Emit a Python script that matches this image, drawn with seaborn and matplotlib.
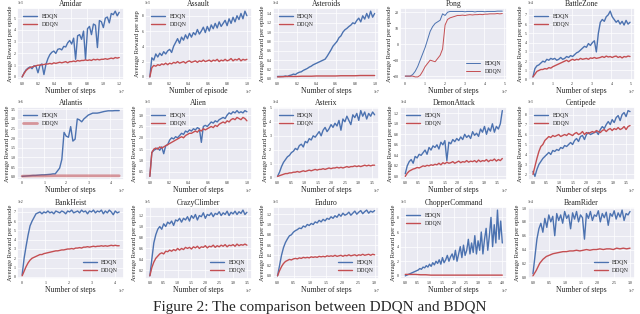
import numpy as np
import matplotlib
matplotlib.use('Agg')
import matplotlib.pyplot as plt
import seaborn as sns

# ---- data, x in units of 1e7 steps, y in units of y_scale ----
games = ['Amidar', 'Assault', 'Asteroids', 'Pong', 'BattleZone',
         'Atlantis', 'Alien', 'Asterix', 'DemonAttack', 'Centipede',
         'BankHeist', 'CrazyClimber', 'Enduro', 'ChopperCommand', 'BeamRider']
x_end = [1.2, 1.0, 1.0, 4.9, 4.95, 4.4, 1.0, 3.6, 3.7, 3.65, 4.2, 3.5, 3.0, 4.0, 3.0]
y_scale = [1e3, 1e4, 1e4, 1, 1e4, 1e6, 1e3, 1e4, 1e4, 1e3, 1e2, 1e5, 1e3, 1e4, 1e4]
y_labels = ['Average Reward per episode', 'Average Reward per step'] + ['Average Reward per episode'] * 13
x_labels = ['Number of steps', 'Number of episode'] + ['Number of steps'] * 13
legend_loc = ['upper left', 'upper left', 'upper left', 'lower right', 'upper left',
              'upper left', 'upper left', 'upper left', 'upper left', 'upper left',
              'lower right', 'lower right', 'lower right', 'upper left', 'lower right']

amidar_bdqn = [0.0, 0.35, 0.6, 0.75, 0.85, 0.7, 0.95, 0.9, 0.35, 1.0, 1.1, 0.2, 1.05, 1.55, 1.9, 2.1, 2.2,
               2.0, 2.35, 2.4, 2.3, 2.6, 2.55, 2.9, 3.1, 2.8, 3.3, 1.5, 3.5, 3.6, 3.2, 3.9, 1.5, 4.1, 4.3,
               3.6, 4.5, 4.4, 2.5, 4.8, 4.7, 4.2, 5.0, 5.1, 4.6, 5.4, 5.3, 5.6, 5.2, 5.5]
amidar_ddqn = [0.0, 0.3, 0.55, 0.7, 0.8, 0.85, 0.9, 0.95, 1.0, 1.0, 1.05, 1.05, 1.1, 1.1, 1.15, 1.1, 1.2,
               1.15, 1.2, 1.25, 1.2, 1.25, 1.3, 1.2, 1.3, 1.3, 1.35, 1.3, 1.4, 1.35, 1.4, 1.4, 1.45, 1.4,
               1.45, 1.4, 1.5, 1.45, 1.5, 1.45, 1.5, 1.5, 1.55, 1.5, 1.55, 1.6, 1.55, 1.65, 1.6, 1.65]

assault_bdqn = [0.0, 0.25, 0.22, 0.3, 0.26, 0.31, 0.28, 0.33, 0.3, 0.34, 0.36, 0.32, 0.4, 0.45, 0.5, 0.44,
                0.52, 0.48, 0.55, 0.5, 0.57, 0.52, 0.58, 0.55, 0.62, 0.56, 0.6, 0.65, 0.58, 0.66, 0.6, 0.68,
                0.63, 0.7, 0.64, 0.72, 0.66, 0.7, 0.74, 0.67, 0.76, 0.7, 0.78, 0.72, 0.8, 0.75, 0.83, 0.76,
                0.86, 0.8]
assault_ddqn = [0.0, 0.12, 0.15, 0.14, 0.16, 0.15, 0.17, 0.16, 0.18, 0.16, 0.18, 0.17, 0.19, 0.18, 0.2, 0.18,
                0.19, 0.2, 0.18, 0.2, 0.21, 0.19, 0.2, 0.21, 0.19, 0.21, 0.2, 0.22, 0.2, 0.21, 0.22, 0.2,
                0.22, 0.21, 0.23, 0.2, 0.22, 0.21, 0.23, 0.21, 0.22, 0.24, 0.21, 0.23, 0.22, 0.24, 0.21,
                0.23, 0.22, 0.23]

asteroids_bdqn = [0.05, 0.05, 0.05, 0.05, 0.06, 0.05, 0.07, 0.08, 0.1, 0.09, 0.12, 0.14, 0.15, 0.18, 0.2,
                  0.22, 0.25, 0.27, 0.3, 0.32, 0.34, 0.36, 0.38, 0.4, 0.42, 0.48, 0.55, 0.62, 0.7, 0.75, 0.8,
                  0.88, 0.92, 1.0, 1.05, 1.08, 1.12, 1.15, 1.2, 1.18, 1.25, 1.3, 1.22, 1.35, 1.28, 1.4, 1.3,
                  1.45, 1.32, 1.4]
asteroids_ddqn = [0.04, 0.045, 0.05, 0.05, 0.05, 0.055, 0.055, 0.055, 0.06, 0.06, 0.06, 0.06, 0.06, 0.065,
                  0.065, 0.065, 0.065, 0.07, 0.07, 0.07, 0.07]

pong_bdqn = [-20, -20, -20, -19, -17, -14, -10, -6, -2, 3, 8, 11, 13, 14, 15, 19, 18, 20, 20.5, 20.5, 20.5,
             20.5, 20.5, 20.5, 20.3, 20.5, 20.5, 20.5, 20.2, 20.5, 20.5, 20.5, 20.3, 20.5, 20.5, 20.5, 20.5,
             20.7, 20.7, 20.7]
pong_ddqn = [-20, -20, -20, -20, -20.5, -20.5, -19.5, -17, -14, -12, -10, -10.5, -11, -9, -7, -3, 12, 15.5,
             16.5, 17, 17.5, 18, 18, 18.2, 18, 18.3, 18.5, 18.3, 18.5, 18.5, 18.7, 18.5, 18.8, 18.8, 19, 19,
             19, 19.2, 19, 19.2]

battlezone_bdqn = [0.3, 1.2, 1.5, 1.6, 1.8, 2.0, 1.9, 2.2, 2.1, 2.3, 2.2, 2.3, 2.1, 2.2, 2.4, 2.2, 2.3, 2.5,
                   2.4, 2.6, 2.5, 2.7, 2.9, 3.0, 3.2, 3.4, 3.6, 3.5, 3.9, 3.7, 4.0, 4.2, 3.0, 5.0, 6.2, 6.5,
                   6.3, 6.8, 7.0, 7.4, 6.8, 6.5, 6.2, 6.4, 6.0, 6.3, 5.9, 6.4, 6.0, 6.2]
battlezone_ddqn = [0.3, 0.6, 0.9, 1.0, 1.1, 1.1, 1.2, 1.15, 1.3, 1.25, 1.4, 1.5, 1.6, 1.7, 1.8, 1.9, 2.0, 2.1,
                   1.95, 2.1, 2.2, 2.1, 2.2, 2.15, 2.3, 2.2, 2.25, 2.3, 2.2, 2.35, 2.3, 2.4, 2.3, 2.35, 2.4,
                   2.5, 2.4, 2.55, 2.45, 2.5, 2.4, 2.5, 2.55, 2.4, 2.5, 2.35, 2.5, 2.45, 2.55, 2.5]

atlantis_bdqn = [0.02, 0.03, 0.04, 0.05, 0.06, 0.07, 0.07, 0.08, 0.09, 0.1, 0.1, 0.11, 0.12, 0.13, 0.15,
                 0.15, 0.3, 0.45, 0.9, 2.3, 2.1, 2.05, 2.6, 1.85, 1.95, 3.0, 2.95, 2.85, 3.0, 3.1, 3.2, 3.25,
                 3.3, 3.3, 3.3, 3.32, 3.35, 3.38, 3.4, 3.42, 3.42, 3.42, 3.43, 3.43, 3.43]
atlantis_ddqn = [0.03, 0.04, 0.04, 0.05, 0.05, 0.05, 0.05, 0.05, 0.05, 0.05]

alien_bdqn = [0.3, 1.35, 1.45, 1.5, 1.55, 1.45, 1.6, 1.3, 1.65, 1.7, 1.9, 2.0, 1.95, 2.05, 2.0, 2.1, 2.2,
              2.15, 2.3, 2.25, 2.35, 2.3, 2.4, 2.35, 2.45, 2.4, 1.8, 2.5, 2.55, 2.5, 2.6, 2.7, 2.65, 2.75,
              2.7, 2.8, 2.85, 2.9, 2.85, 3.0, 3.1, 3.05, 3.15, 3.1, 3.2, 3.1, 3.15, 3.1, 3.2, 3.15]
alien_ddqn = [0.3, 1.35, 1.5, 1.55, 1.5, 1.6, 1.55, 1.6, 1.65, 1.7, 1.75, 1.8, 1.85, 1.9, 1.95, 2.0, 2.05,
              2.0, 2.1, 2.15, 2.2, 2.2, 2.25, 2.3, 2.25, 2.35, 2.3, 2.4, 2.35, 2.4, 2.45, 2.5, 2.45, 2.55,
              2.5, 2.6, 2.65, 2.7, 2.65, 2.75, 2.7, 2.8, 2.85, 2.8, 2.9, 2.85, 2.8, 2.9, 2.85, 2.75]

asterix_bdqn = [0.1, 0.4, 0.8, 1.1, 1.3, 1.5, 1.6, 1.8, 1.9, 2.1, 2.0, 2.3, 2.4, 2.2, 2.6, 2.5, 2.8, 2.7,
                3.0, 2.9, 3.1, 3.3, 3.0, 3.4, 3.6, 3.3, 3.5, 3.8, 3.6, 3.9, 3.7, 4.1, 3.4, 4.2, 4.0, 4.4,
                4.1, 3.8, 4.5, 4.3, 4.6, 4.1, 4.8, 4.4, 4.7, 4.2, 4.6, 4.4, 4.7, 4.5]
asterix_ddqn = [0.1, 0.15, 0.2, 0.25, 0.3, 0.3, 0.35, 0.35, 0.4, 0.4, 0.45, 0.4, 0.45, 0.5, 0.45, 0.5, 0.55,
                0.5, 0.55, 0.6, 0.55, 0.6, 0.6, 0.65, 0.6, 0.65, 0.7, 0.65, 0.7, 0.7, 0.75, 0.7, 0.75, 0.7,
                0.75, 0.8, 0.75, 0.8, 0.8, 0.85, 0.8, 0.85, 0.8, 0.85, 0.9, 0.85, 0.9, 0.85, 0.9, 0.9]

demon_bdqn = [0.05, 0.2, 0.28, 0.32, 0.25, 0.38, 0.35, 0.42, 0.4, 0.45, 0.5, 0.42, 0.55, 0.5, 0.58, 0.55,
              0.6, 0.52, 0.65, 0.6, 0.68, 0.3, 0.65, 0.62, 0.7, 0.66, 0.72, 0.68, 0.75, 0.7, 0.8, 0.74, 0.78,
              0.72, 0.85, 0.78, 0.82, 0.76, 0.9, 0.84, 0.95, 0.8, 0.92, 0.86, 1.0, 0.84, 0.95, 0.9, 1.0, 1.25]
demon_ddqn = [0.0, 0.06, 0.1, 0.12, 0.14, 0.15, 0.17, 0.16, 0.18, 0.2, 0.19, 0.21, 0.2, 0.22, 0.21, 0.23,
              0.22, 0.25, 0.22, 0.26, 0.24, 0.27, 0.25, 0.26, 0.28, 0.25, 0.27, 0.29, 0.26, 0.28, 0.27, 0.3,
              0.27, 0.29, 0.28, 0.3, 0.27, 0.31, 0.28, 0.3, 0.29, 0.32, 0.28, 0.31, 0.3, 0.33, 0.29, 0.32,
              0.3, 0.34]

centipede_bdqn = [2.3, 1.8, 2.5, 3.0, 3.3, 3.6, 3.8, 4.0, 4.2, 4.0, 4.4, 4.3, 4.5, 4.4, 4.7, 4.6, 4.9, 4.8,
                  5.0, 5.2, 5.0, 5.4, 5.6, 5.3, 5.8, 5.9, 5.5, 6.0, 6.2, 6.0, 6.1, 6.2, 6.3, 6.0, 6.5, 6.8,
                  6.6, 7.0, 7.3, 7.0, 7.5, 7.2, 7.7, 7.9, 7.4, 8.0, 8.2, 7.8, 8.4, 8.3]
centipede_ddqn = [2.0, 2.8, 3.6, 4.3, 4.8, 5.0, 5.4, 5.6, 5.8, 5.7, 5.9, 5.8, 5.9, 6.0, 5.8, 5.9, 6.0, 5.9,
                  6.1, 6.0, 5.9, 6.1, 6.2, 6.0, 6.1, 6.3, 6.0, 6.2, 6.1, 6.2, 6.3, 6.2, 6.4, 6.3, 6.2, 6.4,
                  6.5, 6.3, 6.5, 6.6, 6.4, 6.6, 6.5, 6.7, 6.5, 6.6, 6.8, 6.5, 6.8, 6.9]

bankheist_bdqn = [0.2, 2.0, 3.3, 4.5, 5.5, 6.0, 6.4, 6.8, 6.9, 7.0, 6.8, 7.0, 6.9, 7.1, 6.9, 7.0, 6.8, 7.1,
                  7.0, 6.9, 7.1, 7.0, 6.8, 7.1, 7.0, 7.2, 6.9, 7.0, 7.1, 6.9, 7.2, 7.0, 7.1, 6.8, 7.1, 7.0,
                  7.2, 6.9, 7.1, 7.0, 7.2, 6.8, 7.1, 6.9, 7.2, 7.0, 6.7, 7.1, 6.9, 7.0]
bankheist_ddqn = [0.1, 0.6, 1.1, 1.5, 1.8, 2.0, 2.1, 2.2, 2.3, 2.4, 2.4, 2.5, 2.55, 2.6, 2.65, 2.7, 2.75,
                  2.8, 2.8, 2.85, 2.9, 2.9, 2.95, 3.0, 3.0, 3.05, 3.0, 3.1, 3.1, 3.15, 3.1, 3.2, 3.2, 3.25,
                  3.2, 3.25, 3.3, 3.25, 3.3, 3.3, 3.35, 3.3, 3.35, 3.3, 3.35, 3.4, 3.35, 3.4, 3.35, 3.35]

climber_bdqn = [0.1, 0.4, 0.7, 0.85, 0.95, 1.0, 0.95, 1.05, 1.0, 1.08, 1.05, 1.1, 1.02, 1.12, 1.1, 1.15,
                1.08, 1.15, 1.12, 1.18, 1.1, 1.2, 1.15, 1.22, 1.12, 1.2, 1.18, 1.25, 1.15, 1.22, 1.2, 1.25,
                1.18, 1.24, 1.22, 1.27, 1.2, 1.25, 1.22, 1.28, 1.2, 1.26, 1.23, 1.28, 1.22, 1.27, 1.24, 1.3,
                1.22, 1.26]
climber_ddqn = [0.1, 0.25, 0.35, 0.42, 0.46, 0.5, 0.52, 0.5, 0.55, 0.54, 0.57, 0.55, 0.58, 0.56, 0.6, 0.57,
                0.6, 0.58, 0.62, 0.6, 0.62, 0.59, 0.63, 0.61, 0.64, 0.6, 0.63, 0.62, 0.65, 0.61, 0.64, 0.63,
                0.66, 0.62, 0.65, 0.63, 0.66, 0.64, 0.67, 0.63, 0.66, 0.65, 0.67, 0.64, 0.68, 0.65, 0.67,
                0.66, 0.68, 0.66]

enduro_bdqn = [0.0, 0.2, 0.4, 0.55, 0.65, 0.72, 0.78, 0.8, 0.85, 0.88, 0.9, 0.93, 0.92, 0.97, 0.95, 1.0,
               0.98, 1.02, 1.0, 1.05, 1.03, 1.08, 1.05, 1.1, 1.07, 1.12, 1.1, 1.15, 1.12, 1.17, 1.14, 1.2,
               1.16, 1.22, 1.18, 1.2, 1.24, 1.18, 1.22, 1.26, 1.2, 1.24, 1.27, 1.21, 1.25, 1.28, 1.22, 1.26,
               1.24, 1.27]
enduro_ddqn = [0.0, 0.1, 0.18, 0.24, 0.28, 0.3, 0.32, 0.31, 0.33, 0.34, 0.33, 0.35, 0.34, 0.36, 0.35, 0.36,
               0.35, 0.37, 0.36, 0.37, 0.36, 0.38, 0.37, 0.38, 0.37, 0.39, 0.38, 0.39, 0.38, 0.4, 0.38, 0.39,
               0.4, 0.38, 0.4, 0.39, 0.41, 0.39, 0.4, 0.41, 0.39, 0.41, 0.4, 0.42, 0.4, 0.41, 0.42, 0.4,
               0.42, 0.41]

chopper_bdqn = [0.0, 0.01, 0.02, 0.03, 0.04, 0.05, 0.06, 0.07, 0.08, 0.1, 0.09, 0.12, 0.11, 0.14, 0.12,
                0.16, 0.13, 0.18, 0.15, 0.2, 0.17, 0.22, 0.16, 0.25, 0.18, 0.22, 0.28, 0.2, 0.26, 0.3, 0.22,
                0.35, 0.2, 0.3, 0.4, 0.25, 0.42, 0.28, 0.35, 0.5, 0.3, 0.45, 0.32, 0.55, 0.3, 0.48, 0.35,
                0.6, 0.3, 0.5, 0.65, 0.35, 0.55, 0.8, 0.4, 0.7, 0.45, 0.9, 0.5, 0.75, 0.45]
chopper_ddqn = [0.02, 0.02, 0.02, 0.015, 0.015, 0.01, 0.01, 0.01, 0.01, 0.01, 0.01, 0.01, 0.01, 0.01, 0.01,
                0.01, 0.01, 0.01, 0.01, 0.01]

beam_bdqn = [0.05, 0.3, 0.55, 0.7, 0.78, 0.65, 0.85, 0.72, 0.9, 0.8, 0.88, 0.6, 0.92, 0.82, 0.9, 0.78, 0.95,
             0.85, 0.9, 0.7, 0.93, 0.84, 0.95, 0.8, 0.9, 0.86, 0.55, 0.92, 0.85, 0.95, 0.82, 0.9, 0.88, 0.96,
             0.8, 0.92, 0.86, 0.94, 0.75, 0.92, 0.88, 0.96, 0.84, 0.93, 0.87, 0.97, 0.82, 0.92, 0.9, 0.95]
beam_ddqn = [0.02, 0.1, 0.2, 0.26, 0.3, 0.32, 0.34, 0.35, 0.36, 0.37, 0.37, 0.38, 0.38, 0.39, 0.38, 0.39,
             0.4, 0.39, 0.4, 0.4, 0.41, 0.4, 0.41, 0.41, 0.4, 0.42, 0.41, 0.42, 0.41, 0.42]

bdqn = [amidar_bdqn, assault_bdqn, asteroids_bdqn, pong_bdqn, battlezone_bdqn,
        atlantis_bdqn, alien_bdqn, asterix_bdqn, demon_bdqn, centipede_bdqn,
        bankheist_bdqn, climber_bdqn, enduro_bdqn, chopper_bdqn, beam_bdqn]
ddqn = [amidar_ddqn, assault_ddqn, asteroids_ddqn, pong_ddqn, battlezone_ddqn,
        atlantis_ddqn, alien_ddqn, asterix_ddqn, demon_ddqn, centipede_ddqn,
        bankheist_ddqn, climber_ddqn, enduro_ddqn, chopper_ddqn, beam_ddqn]

# ---- style ----
sns.set_theme(style='darkgrid')
plt.rcParams['font.family'] = ['Liberation Serif', 'DejaVu Serif']
blue = '#4c72b0'
red = '#c44e52'

fig, axes = plt.subplots(3, 5, figsize=(6.4, 3.14), dpi=100)
fig.subplots_adjust(left=0.027, right=0.992, bottom=0.111, top=0.975, wspace=0.196, hspace=0.375)

for i, ax in enumerate(axes.flat):
    xb = np.linspace(0, x_end[i], len(bdqn[i])) * 1e7
    xd = np.linspace(0, x_end[i], len(ddqn[i])) * 1e7
    lw = 0.7 if games[i] == 'Pong' else 1.0
    sns.lineplot(x=xb, y=np.array(bdqn[i]) * y_scale[i], ax=ax, color=blue, lw=lw, label='BDQN')
    if games[i] == 'Atlantis':
        sns.lineplot(x=xd, y=np.array(ddqn[i]) * y_scale[i], ax=ax, color=red, lw=2.0, alpha=0.55, label='DDQN')
    else:
        sns.lineplot(x=xd, y=np.array(ddqn[i]) * y_scale[i], ax=ax, color=red, lw=lw, label='DDQN')

    ax.set_title(games[i], fontsize=5.5, pad=1.5)
    ax.set_xlabel(x_labels[i], fontsize=5.5, labelpad=1)
    ax.set_ylabel(y_labels[i], fontsize=4.8, labelpad=1)
    if games[i] == 'Pong':
        ax.ticklabel_format(axis='x', style='sci', scilimits=(0, 0))
    else:
        ax.ticklabel_format(axis='both', style='sci', scilimits=(0, 0))
    ax.tick_params(labelsize=2.8, pad=1, length=0)
    ax.xaxis.get_offset_text().set_fontsize(2.8)
    ax.yaxis.get_offset_text().set_fontsize(2.8)
    ax.grid(lw=0.5)
    ax.legend(loc=legend_loc[i], fontsize=4.2, frameon=False, handlelength=2.4, borderaxespad=0.6)

fig.text(0.5, 0.0, 'Figure 2: The comparison between DDQN and BDQN', ha='center', va='bottom', fontsize=11)

fig.savefig('out.png', dpi=100)
